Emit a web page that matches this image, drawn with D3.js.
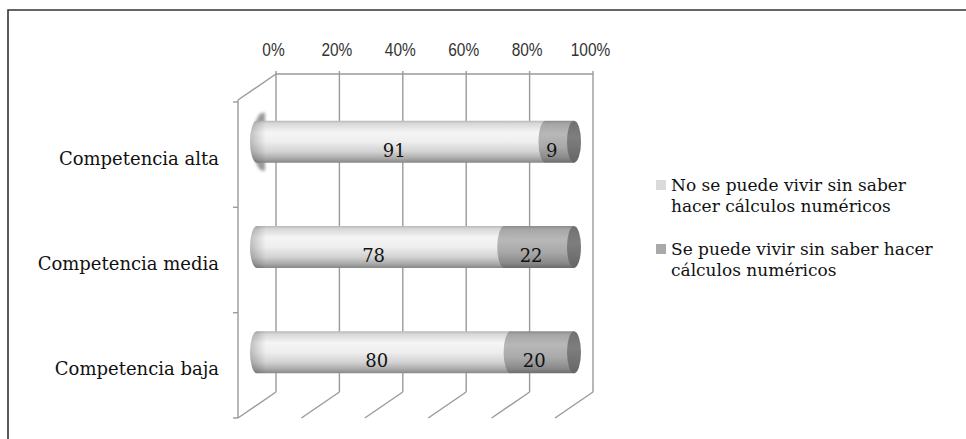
<!DOCTYPE html>
<html>
<head>
<meta charset="utf-8">
<script src="https://cdn.jsdelivr.net/npm/d3@7"></script>
<style>
  html, body { margin: 0; padding: 0; background: #fff; }
  svg { display: block; }
</style>
</head>
<body>
<svg id="chart" width="966" height="439"></svg>
<script>
// Categories, top to bottom
const categories = ["Competencia alta", "Competencia media", "Competencia baja"];
// Percentages for each stacked series
const noSePuede = [91, 78, 80];
const sePuede = [9, 22, 20];
// Axis tick values and legend text
const tickValues = [0, 20, 40, 60, 80, 100];
const seriesNames = [
  ["No se puede vivir sin saber", "hacer cálculos numéricos"],
  ["Se puede vivir sin saber hacer", "cálculos numéricos"]
];

const svg = d3.select("#chart");
const W = 966, H = 439;

// Back wall of the 3D plot and the depth offset toward the viewer
const backLeft = 276, backRight = 593, backTop = 76, backBottom = 392;
const depthX = -38, depthY = 26;
const midX = depthX / 2, midY = depthY / 2;

const x = d3.scaleLinear().domain([0, 100]).range([backLeft, backRight]);
const y = d3.scaleBand().domain(categories).range([backTop, backBottom]).padding(0);

const gridColor = "#9a9a9a";
const serifFont = "'DejaVu Serif', 'Liberation Serif', serif";

// Gradients for the cylinders
const defs = svg.append("defs");
function vGrad(id, stops) {
  const g = defs.append("linearGradient").attr("id", id)
    .attr("x1", 0).attr("y1", 0).attr("x2", 0).attr("y2", 1);
  stops.forEach(([o, c]) => g.append("stop").attr("offset", o).attr("stop-color", c));
}
vGrad("lightBody", [[0, "#b8b8b8"], [0.07, "#d8d8d8"], [0.28, "#f5f5f5"], [0.5, "#eeeeee"],
                    [0.74, "#d2d2d2"], [0.9, "#aaaaaa"], [1, "#878787"]]);
vGrad("darkBody", [[0, "#8c8c8c"], [0.08, "#a6a6a6"], [0.32, "#b8b8b8"], [0.62, "#a9a9a9"],
                   [0.88, "#8a8a8a"], [1, "#6c6c6c"]]);
vGrad("capFill", [[0, "#707070"], [0.4, "#7e7e7e"], [1, "#666666"]]);
const hg = defs.append("linearGradient").attr("id", "leftShade")
  .attr("x1", 0).attr("y1", 0).attr("x2", 1).attr("y2", 0);
hg.append("stop").attr("offset", 0).attr("stop-color", "#000").attr("stop-opacity", 0.22);
hg.append("stop").attr("offset", 1).attr("stop-color", "#000").attr("stop-opacity", 0);
defs.append("filter").attr("id", "soft")
  .attr("x", "-50%").attr("y", "-50%").attr("width", "200%").attr("height", "200%")
  .append("feGaussianBlur").attr("stdDeviation", 1.6);

// Outer frame (top and left edges)
svg.append("path")
  .attr("d", `M8,${H} L8,10 L${W},10`)
  .attr("fill", "none").attr("stroke", "#333").attr("stroke-width", 1.6);

// Back wall: vertical gridlines, top edge, floor diagonals
const grid = svg.append("g").attr("stroke", gridColor).attr("stroke-width", 1.4).attr("fill", "none");
grid.selectAll("line.v").data(tickValues).join("line").attr("class", "v")
  .attr("x1", d => x(d)).attr("x2", d => x(d))
  .attr("y1", backTop - 5).attr("y2", backBottom);
grid.append("line")
  .attr("x1", x(0)).attr("x2", x(100)).attr("y1", backTop - 2).attr("y2", backTop - 2);
grid.selectAll("line.f").data(tickValues).join("line").attr("class", "f")
  .attr("x1", d => x(d)).attr("y1", backBottom)
  .attr("x2", d => x(d) + depthX).attr("y2", backBottom + depthY);
// Left wall edge
grid.append("line")
  .attr("x1", x(0)).attr("y1", backTop - 2)
  .attr("x2", x(0) + depthX).attr("y2", backTop - 2 + depthY);
grid.append("line")
  .attr("x1", x(0) + depthX).attr("y1", backTop - 2 + depthY)
  .attr("x2", x(0) + depthX).attr("y2", backBottom + depthY);
// Category tick marks on the front edge
const edges = categories.map(c => y(c)).concat([backBottom]);
grid.selectAll("line.t").data(edges).join("line").attr("class", "t")
  .attr("x1", x(0) + depthX - 5).attr("x2", x(0) + depthX)
  .attr("y1", d => d + depthY).attr("y2", d => d + depthY);

// Percentage tick labels along the top (narrow face)
svg.append("g").selectAll("text").data(tickValues).join("text")
  .attr("transform", d => `translate(${x(d) - 2.5},56) scale(0.86,1)`)
  .attr("text-anchor", "middle")
  .attr("font-family", "'Liberation Sans Narrow', 'Liberation Sans', sans-serif")
  .attr("font-size", 18).attr("fill", "#333")
  .text(d => d + "%");

// Category labels
svg.append("g").selectAll("text").data(categories).join("text")
  .attr("x", 219)
  .attr("y", d => y(d) + depthY + y.bandwidth() / 2 + 10)
  .attr("text-anchor", "end")
  .attr("font-family", serifFont).attr("font-size", 18).attr("fill", "#111")
  .text(d => d);

// Cylinders sit midway between the back wall and the front edge
const xm = v => x(v) + midX;
const ry = 21, rx = 7;
const rows = categories.map((c, i) => ({
  cat: c, a: noSePuede[i], b: sePuede[i],
  cy: y(c) + y.bandwidth() / 2 + midY
}));

const bars = svg.append("g");
rows.forEach((r, i) => {
  const g = bars.append("g");
  const top = r.cy - ry, bot = r.cy + ry;
  const x0 = xm(0), xb = xm(r.a), x1 = xm(r.a + r.b);
  if (i === 0) {
    // soft shadow around the left end of the first cylinder
    g.append("path")
      .attr("d", `M${x0 + 8},${r.cy - 29} L${x0 + 6},${r.cy - 29} A10,29 0 0 0 ${x0 + 6},${r.cy + 29} L${x0 + 8},${r.cy + 29} Z`)
      .attr("fill", "#9a9a9a").attr("filter", "url(#soft)");
  }
  // first series body with rounded left end
  g.append("path")
    .attr("d", `M${xb},${top} L${x0},${top} A${rx},${ry} 0 0 0 ${x0},${bot} L${xb},${bot} Z`)
    .attr("fill", "url(#lightBody)");
  g.append("path")
    .attr("d", `M${x0 + 9},${top} L${x0},${top} A${rx},${ry} 0 0 0 ${x0},${bot} L${x0 + 9},${bot} Z`)
    .attr("fill", "url(#leftShade)");
  // second series body
  g.append("path")
    .attr("d", `M${xb},${bot} A${rx},${ry} 0 0 1 ${xb},${top} L${x1},${top} L${x1},${bot} Z`)
    .attr("fill", "url(#darkBody)");
  // visible end cap
  g.append("ellipse").attr("cx", x1).attr("cy", r.cy).attr("rx", rx).attr("ry", ry)
    .attr("fill", "url(#capFill)");

  // value labels
  g.append("text")
    .attr("x", xm(r.a / 2) - 7).attr("y", r.cy + 15)
    .attr("text-anchor", "middle")
    .attr("font-family", serifFont).attr("font-size", 18).attr("fill", "#111")
    .text(r.a);
  g.append("text")
    .attr("x", xm(r.a + r.b / 2) - 8).attr("y", r.cy + 15)
    .attr("text-anchor", "middle")
    .attr("font-family", serifFont).attr("font-size", 18).attr("fill", "#111")
    .text(r.b);
});

// Legend
const legendColors = ["#dadada", "#a9a9a9"];
const legendTop = [180, 244];
const legend = svg.append("g");
seriesNames.forEach((lines, i) => {
  legend.append("rect")
    .attr("x", 656).attr("y", legendTop[i]).attr("width", 10).attr("height", 10)
    .attr("fill", legendColors[i]);
  legend.append("text")
    .attr("x", 671).attr("y", legendTop[i] + 11)
    .attr("font-family", serifFont).attr("font-size", 17).attr("fill", "#111")
    .selectAll("tspan").data(lines).join("tspan")
    .attr("x", 671).attr("dy", (d, j) => j === 0 ? 0 : 21)
    .text(d => d);
});
</script>
</body>
</html>
